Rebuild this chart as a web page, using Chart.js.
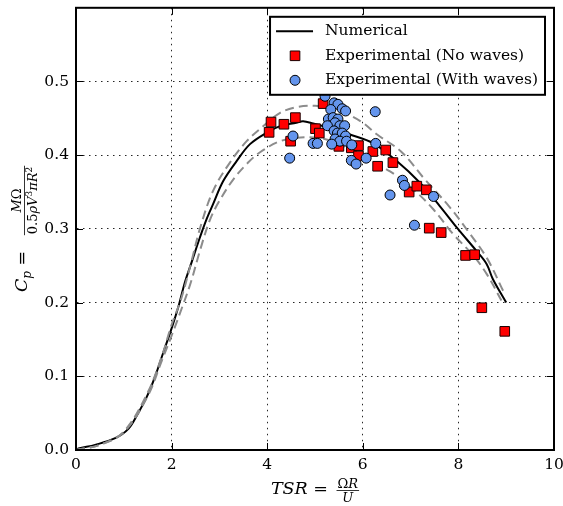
<!DOCTYPE html>
<html>
<head>
<meta charset="utf-8">
<script src="https://cdn.jsdelivr.net/npm/chart.js@4"></script>
<style>
  html, body { margin: 0; padding: 0; background: #fff; }
</style>
</head>
<body>
<canvas id="cpChart" width="563" height="506"></canvas>
<script>
// numerical Cp curve and its +/- band
const numX = [0, 0.05, 0.4, 0.82, 1.1, 1.3, 1.48, 1.65, 1.83, 2.0, 2.14, 2.28, 2.42, 2.59, 2.73, 2.87, 3.08, 3.36, 3.64, 4.0, 4.27, 4.61, 4.75, 4.96, 5.3, 5.73, 6.22, 6.71, 7.19, 7.61, 7.99, 8.38, 8.59, 8.72, 9.0];
const numY = [0, 0.002, 0.007, 0.016, 0.029, 0.05, 0.072, 0.099, 0.133, 0.165, 0.194, 0.228, 0.255, 0.288, 0.313, 0.334, 0.365, 0.392, 0.415, 0.431, 0.4395, 0.444, 0.446, 0.443, 0.437, 0.428, 0.416, 0.392, 0.363, 0.331, 0.300, 0.270, 0.2525, 0.232, 0.2];
const upX = [0, 0.5, 1.0, 1.5, 1.8, 2.0, 2.2, 2.4, 2.6, 2.87, 3.22, 3.57, 3.92, 4.27, 4.6, 5.0, 5.3, 5.7, 6.0, 6.3, 6.8, 7.3, 7.8, 8.2, 8.6, 8.95];
const upY = [0, 0.007, 0.025, 0.078, 0.128, 0.17, 0.205, 0.252, 0.302, 0.352, 0.39, 0.419, 0.4395, 0.4575, 0.465, 0.467, 0.463, 0.455, 0.444, 0.428, 0.405, 0.367, 0.331, 0.297, 0.26, 0.214];
const lowX = [0, 0.5, 1.0, 1.5, 1.8, 2.0, 2.2, 2.4, 2.6, 2.8, 3.0, 3.3, 3.6, 3.85, 4.27, 4.7, 5.2, 5.6, 6.0, 6.57, 7.05, 7.47, 7.89, 8.31, 8.59, 8.9];
const lowY = [0, 0.007, 0.024, 0.073, 0.122, 0.155, 0.19, 0.227, 0.272, 0.312, 0.338, 0.368, 0.39, 0.404, 0.419, 0.424, 0.422, 0.412, 0.397, 0.378, 0.354, 0.327, 0.293, 0.264, 0.239, 0.203];

// experiments
const noWavesX = [4.04, 4.08, 4.35, 4.59, 4.49, 5.01, 5.09, 5.17, 5.50, 5.76, 5.91, 5.91, 6.21, 6.31, 6.48, 6.63, 6.97, 7.13, 7.33, 7.39, 7.64, 8.15, 8.34, 8.49, 8.97];
const noWavesY = [0.431, 0.445, 0.442, 0.451, 0.419, 0.436, 0.430, 0.470, 0.412, 0.410, 0.413, 0.399, 0.405, 0.385, 0.407, 0.390, 0.350, 0.358, 0.353, 0.301, 0.295, 0.264, 0.265, 0.193, 0.161];
const wavesX = [5.21, 5.40, 5.48, 5.57, 5.64, 5.33, 5.28, 5.38, 5.48, 5.42, 5.26, 5.52, 5.62, 5.40, 5.47, 5.57, 5.64, 5.42, 5.52, 5.66, 5.35, 4.96, 5.05, 4.54, 5.77, 4.47, 6.26, 6.27, 5.76, 5.86, 6.07, 6.83, 6.87, 6.57, 7.48, 7.08];
const wavesY = [0.480, 0.471, 0.469, 0.463, 0.460, 0.462, 0.449, 0.451, 0.449, 0.444, 0.440, 0.440, 0.440, 0.433, 0.430, 0.430, 0.426, 0.422, 0.419, 0.419, 0.415, 0.416, 0.416, 0.426, 0.414, 0.396, 0.459, 0.416, 0.393, 0.388, 0.396, 0.366, 0.359, 0.346, 0.344, 0.305];

const seriesNames = ['Numerical', 'Experimental (No waves)', 'Experimental (With waves)'];
const xTicks = [0, 2, 4, 6, 8, 10];
const yTicks = [0, 0.1, 0.2, 0.3, 0.4, 0.5];

const serif = '"DejaVu Serif", serif';
const pts = (xs, ys) => xs.map((x, i) => ({ x, y: ys[i] }));

function runsWidth(ctx, parts) {
  let w = 0;
  for (const [t, f] of parts) { ctx.font = f; w += ctx.measureText(t).width; }
  return w;
}
function drawRuns(ctx, parts, x, y) {
  for (const [t, f, dy] of parts) {
    ctx.font = f;
    ctx.fillText(t, x, y + (dy || 0));
    x += ctx.measureText(t).width;
  }
  return x;
}

// "lhs  num/den" along a baseline
function drawEquation(ctx, lhs, num, den, start, base, gap, off) {
  let x = drawRuns(ctx, lhs, start, base) + gap;
  const wn = runsWidth(ctx, num), wd = runsWidth(ctx, den);
  const wf = Math.max(wn, wd) + 2;
  drawRuns(ctx, num, x + (wf - wn) / 2, base + off.num);
  drawRuns(ctx, den, x + (wf - wd) / 2, base + off.den);
  ctx.lineWidth = 0.8;
  ctx.beginPath();
  ctx.moveTo(x, base + off.bar);
  ctx.lineTo(x + wf, base + off.bar);
  ctx.stroke();
}

const decor = {
  id: 'decor',
  afterDatasetsDraw(chart) {
    const { ctx, chartArea: a, scales } = chart;
    ctx.save();
    ctx.fillStyle = '#000';
    ctx.strokeStyle = '#000';

    // inward ticks on all four sides
    ctx.lineWidth = 1;
    ctx.beginPath();
    xTicks.forEach(v => {
      const px = Math.round(scales.x.getPixelForValue(v)) + 0.5;
      ctx.moveTo(px, a.bottom); ctx.lineTo(px, a.bottom - 7);
      ctx.moveTo(px, a.top); ctx.lineTo(px, a.top + 7);
    });
    yTicks.forEach(v => {
      const py = Math.round(scales.y.getPixelForValue(v)) + 0.5;
      ctx.moveTo(a.left, py); ctx.lineTo(a.left + 7, py);
      ctx.moveTo(a.right, py); ctx.lineTo(a.right - 7, py);
    });
    ctx.stroke();

    // frame
    ctx.lineWidth = 2;
    ctx.strokeRect(a.left, a.top, a.right - a.left, a.bottom - a.top);

    // legend box inside the axes, in seriesNames order
    const entries = seriesNames.map(n => chart.data.datasets.find(d => d.label === n));
    ctx.font = '15.5px ' + serif;
    const tw = Math.max(...entries.map(d => ctx.measureText(d.label).width));
    const bw = 55 + tw + 7, bh = 78;
    const bx = a.right - 9 - bw, by = a.top + 9;
    ctx.fillStyle = '#fff';
    ctx.fillRect(bx, by, bw, bh);
    ctx.lineWidth = 2;
    ctx.strokeRect(bx, by, bw, bh);
    entries.forEach((d, i) => {
      const cy = by + 14.5 + i * 24.5;
      const mx = bx + 25;
      if (d.showLine) {
        ctx.strokeStyle = d.borderColor;
        ctx.lineWidth = d.borderWidth;
        ctx.beginPath(); ctx.moveTo(bx + 6, cy); ctx.lineTo(bx + 43, cy); ctx.stroke();
      } else {
        ctx.fillStyle = d.backgroundColor;
        ctx.strokeStyle = d.borderColor;
        ctx.lineWidth = 1;
        ctx.beginPath();
        if (d.pointStyle === 'rect') {
          const s = d.pointRadius * Math.SQRT1_2;
          ctx.rect(mx - s, cy - s, 2 * s, 2 * s);
        } else {
          ctx.arc(mx, cy, d.pointRadius, 0, Math.PI * 2);
        }
        ctx.fill(); ctx.stroke();
      }
      ctx.fillStyle = '#000';
      ctx.font = '15.5px ' + serif;
      ctx.textBaseline = 'middle';
      ctx.fillText(d.label, bx + 55, cy);
    });
    ctx.textBaseline = 'alphabetic';
    ctx.strokeStyle = '#000';
    ctx.fillStyle = '#000';

    // x axis title: TSR = ΩR / U
    const bigI = 'italic 17.5px ' + serif, big = '17.5px ' + serif;
    const sm = '13px ' + serif, smI = 'italic 13px ' + serif;
    const xl = [['TSR', bigI], [' = ', big]];
    const xn = [['Ω', sm], ['R', smI]];
    const xd = [['U', smI]];
    const xw = runsWidth(ctx, xl) + 3 + Math.max(runsWidth(ctx, xn), runsWidth(ctx, xd)) + 2;
    drawEquation(ctx, xl, xn, xd, (a.left + a.right) / 2 - xw / 2, 494, 3, { num: -6.5, den: 7.5, bar: -3.5 });

    // y axis title: Cp = MΩ / 0.5ρV³πR², rotated
    const md = '13px ' + serif, mdI = 'italic 13px ' + serif, sup = '9px ' + serif;
    const yl = [['C', bigI], ['p', 'italic 12px ' + serif, 4], [' = ', big]];
    const yn = [['M', mdI], ['Ω', md]];
    const yd = [['0.5', md], ['ρ', mdI], ['V', mdI], ['3', sup, -5], ['π', mdI], ['R', mdI], ['2', sup, -5]];
    const yw = runsWidth(ctx, yl) + 10 + Math.max(runsWidth(ctx, yn), runsWidth(ctx, yd)) + 2;
    ctx.translate(27, (a.top + a.bottom) / 2 + yw / 2);
    ctx.rotate(-Math.PI / 2);
    drawEquation(ctx, yl, yn, yd, 0, 0, 10, { num: -6, den: 10, bar: -2.5 });
    ctx.restore();
  }
};

const curve = (label, xs, ys, color, dash, order) => ({
  type: 'line', label, data: pts(xs, ys), showLine: true, pointRadius: 0, fill: false,
  borderColor: color, borderWidth: 2, borderDash: dash, tension: 0.35, order
});

new Chart(document.getElementById('cpChart'), {
  type: 'scatter',
  data: {
    datasets: [
      { label: seriesNames[2], data: pts(wavesX, wavesY), pointStyle: 'circle', pointRadius: 5, backgroundColor: '#6495ED', borderColor: '#000', borderWidth: 1, order: 0 },
      { label: seriesNames[1], data: pts(noWavesX, noWavesY), pointStyle: 'rect', pointRadius: 6.8, backgroundColor: '#ff0000', borderColor: '#1a0000', borderWidth: 1, order: 1 },
      curve('upper', upX, upY, '#8c8c8c', [9, 5], 2),
      curve('lower', lowX, lowY, '#8c8c8c', [9, 5], 2),
      curve(seriesNames[0], numX, numY, '#000', [], 3)
    ]
  },
  options: {
    responsive: false,
    animation: false,
    events: [],
    layout: { padding: { left: 0, right: 9, top: 6, bottom: 0 } },
    plugins: { legend: { display: false }, tooltip: { enabled: false } },
    scales: {
      x: {
        type: 'linear', min: 0, max: 10,
        afterBuildTicks: axis => { axis.ticks = xTicks.map(v => ({ value: v })); },
        afterFit: scale => { scale.height = 56; scale.paddingLeft = 0; scale.paddingRight = 0; },
        ticks: { color: '#000', font: { family: serif, size: 15.5 }, padding: 6, maxRotation: 0, callback: v => String(v) },
        grid: { color: 'rgba(0,0,0,0.85)', lineWidth: 1, drawTicks: false },
        border: { color: '#000', width: 2, dash: [1.5, 4.5] }
      },
      y: {
        type: 'linear', min: 0, max: 0.6,
        afterBuildTicks: axis => { axis.ticks = yTicks.map(v => ({ value: v })); },
        afterFit: scale => { scale.width = 76; scale.paddingTop = 0; scale.paddingBottom = 0; },
        ticks: { color: '#000', font: { family: serif, size: 15.5 }, padding: 7, callback: v => v.toFixed(1) },
        grid: { color: 'rgba(0,0,0,0.85)', lineWidth: 1, drawTicks: false },
        border: { color: '#000', width: 2, dash: [1.5, 4.5] }
      }
    }
  },
  plugins: [decor]
});
</script>
</body>
</html>
